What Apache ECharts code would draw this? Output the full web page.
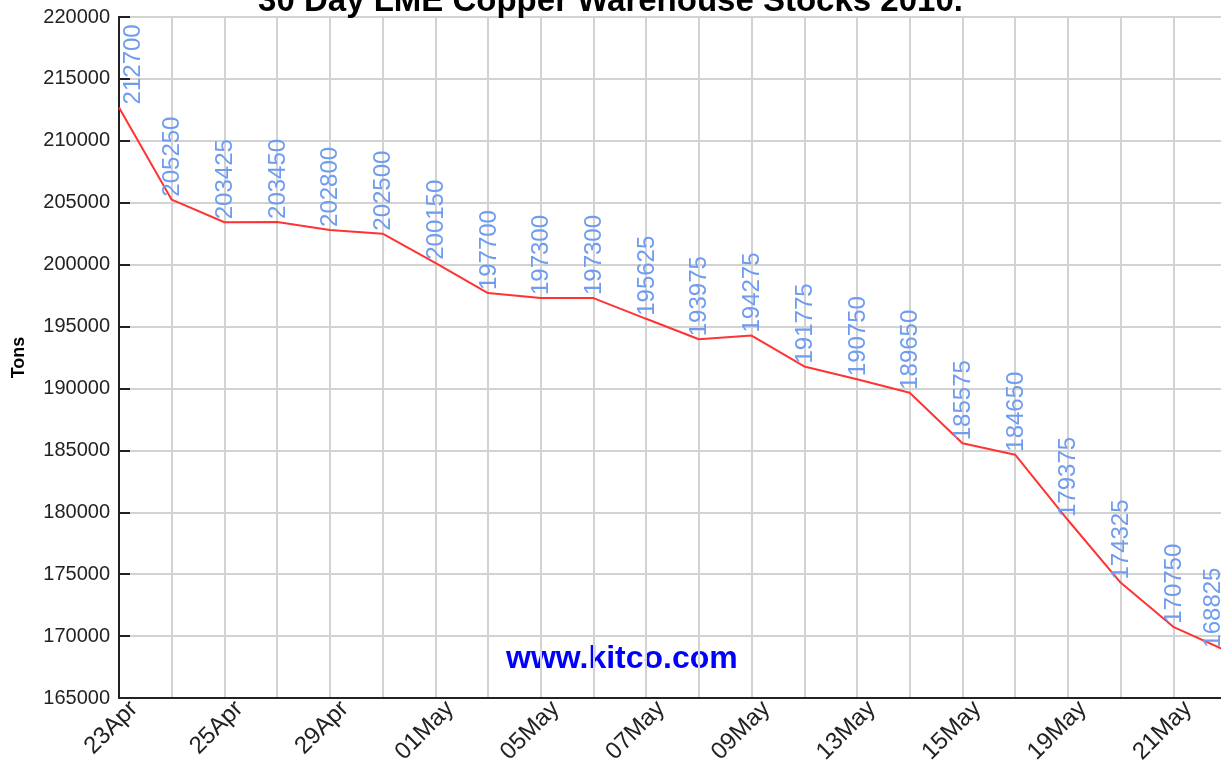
<!DOCTYPE html>
<html>
<head>
<meta charset="utf-8">
<script src="https://cdn.jsdelivr.net/npm/echarts@6/dist/echarts.min.js"></script>
<style>
html,body{margin:0;padding:0;background:#fff;}
#chart{width:1221px;height:762px;}
</style>
</head>
<body>
<div id="chart"></div>
<script>
const categories = ['23Apr','24Apr','25Apr','28Apr','29Apr','30Apr','01May','04May','05May','06May','07May','08May','09May','12May','13May','14May','15May','18May','19May','20May','21May','22May'];
const stocks = [212700,205250,203425,203450,202800,202500,200150,197700,197300,197300,195625,193975,194275,191775,190750,189650,185575,184650,179375,174325,170750,168825];
const titleText = '30 Day LME Copper Warehouse Stocks 2010.';
const yAxisName = 'Tons';
const watermark = 'www.kitco.com';

const chart = echarts.init(document.getElementById('chart'), null, {renderer:'canvas'});
const lastIdx = stocks.length - 1;
const seriesData = stocks.map((v, i) => {
  if (i === 0) return {value: v, label: {position: [14, -3]}};
  if (i === lastIdx) return {value: v, label: {position: [-13, -3]}};
  return v;
});

chart.setOption({
  animation: false,
  backgroundColor: '#ffffff',
  title: {
    text: titleText,
    left: 'center',
    top: -20,
    textStyle: {fontFamily: 'Liberation Sans', fontWeight: 'bold', fontSize: 33, color: '#000'}
  },
  grid: {
    left: 119, right: -5, top: 17, bottom: 64,
    outerBoundsMode: 'none',
    containLabel: false,
    show: true, borderColor: '#444', borderWidth: 2, backgroundColor: 'transparent'
  },
  xAxis: {
    type: 'category',
    data: categories,
    boundaryGap: false,
    axisLine: {lineStyle: {color: '#222', width: 2}},
    axisTick: {show: false},
    axisLabel: {
      interval: 1, rotate: 45, fontSize: 24, color: '#222',
      fontFamily: 'Liberation Sans', margin: 5,
      align: 'right', verticalAlign: 'top', padding: [0, -9, 0, 0]
    },
    splitLine: {show: true, interval: 0, lineStyle: {color: '#d2d2d2', width: 2}}
  },
  yAxis: {
    type: 'value',
    min: 165000, max: 220000, interval: 5000,
    name: yAxisName,
    nameLocation: 'middle',
    nameGap: 91,
    nameTextStyle: {fontFamily: 'Liberation Sans', fontWeight: 'bold', fontSize: 18, color: '#000'},
    axisLine: {show: true, lineStyle: {color: '#222', width: 2}},
    axisTick: {show: true, inside: true, length: 11, lineStyle: {color: '#222', width: 2}},
    axisLabel: {fontSize: 20, color: '#222', fontFamily: 'Liberation Sans', margin: 9,
      formatter: v => String(v)},
    splitLine: {show: true, lineStyle: {color: '#d2d2d2', width: 2}}
  },
  graphic: [{
    type: 'text',
    left: 506, top: 643,
    style: {text: watermark, fill: '#0000ff', font: 'bold 32px "Liberation Sans"'}
  }],
  series: [{
    type: 'line',
    data: seriesData,
    symbol: 'circle',
    symbolSize: 0,
    showSymbol: true,
    lineStyle: {color: '#ff3333', width: 2},
    labelLayout: {hideOverlap: false},
    label: {
      show: true,
      position: [1, -3],
      rotate: 90,
      align: 'left',
      verticalAlign: 'middle',
      color: '#6f9cf0',
      fontSize: 24,
      fontFamily: 'Liberation Sans'
    }
  }]
});
</script>
</body>
</html>
